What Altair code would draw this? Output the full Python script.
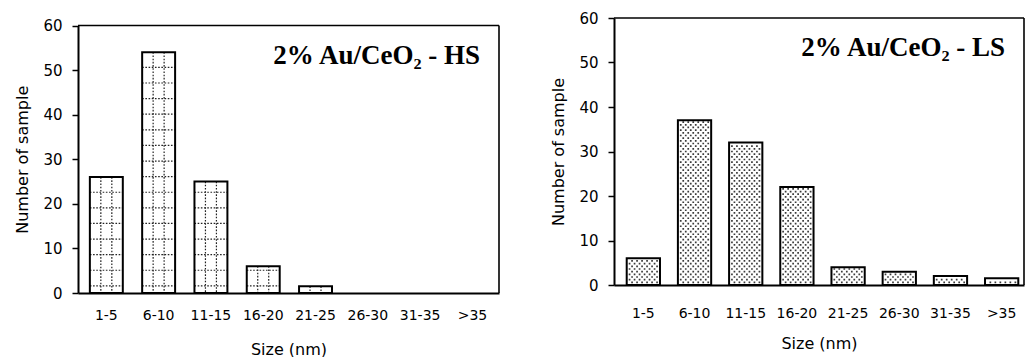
import altair as alt
import numpy as np
import pandas as pd

# Particle size classes and counts for the two catalysts
categories = ["1-5", "6-10", "11-15", "16-20", "21-25", "26-30", "31-35", ">35"]
hs_counts = [26, 54, 25, 6, 1.5, 0, 0, 0]
ls_counts = [6, 37, 32, 22, 4, 3, 2, 1.5]

y_ticks = [0, 10, 20, 30, 40, 50, 60]

SANS = "DejaVu Sans"
SERIF = "Liberation Serif"


def bar_frame(counts):
    df = pd.DataFrame({"size": categories, "count": counts})
    return df[df["count"] > 0]


def grid_rows(counts, start=1.6, step=3.5, margin=0.8):
    rows = []
    for cat, v in zip(categories, counts):
        for lvl in np.arange(start, v - margin, step):
            rows.append({"size": cat, "level": float(lvl)})
    return pd.DataFrame(rows, columns=["size", "level"])


def dot_rows(counts, step=0.6, margin=0.3):
    rows = []
    for cat, v in zip(categories, counts):
        k = 1
        while k * step < v - margin:
            rows.append({"size": cat, "level": k * step, "parity": k % 2})
            k += 1
    return pd.DataFrame(rows, columns=["size", "level", "parity"])


def panel(counts, label, width, height, top, pad_inner, pad_outer, align,
          label_pad, title_pad, kind):
    xscale = alt.Scale(domain=categories, paddingInner=pad_inner,
                       paddingOuter=pad_outer, align=align)
    # the plot box starts `top` pixels below the group's upper edge
    yscale = alt.Scale(domain=[0, 60], nice=False, range=[height, top])

    x_axis = alt.Axis(title="Size (nm)", labelAngle=0, ticks=False,
                      labelPadding=label_pad, titlePadding=title_pad,
                      labelFont=SANS, labelFontSize=14, labelColor="black",
                      titleFont=SANS, titleFontSize=16, titleFontWeight="normal",
                      titleColor="black", domainColor="black", domainWidth=2)
    y_axis = alt.Axis(title="Number of sample", values=y_ticks, grid=False,
                      tickSize=6, tickWidth=1.5, tickColor="black",
                      labelPadding=10, labelFont=SANS, labelFontSize=15,
                      labelColor="black", titleFont=SANS, titleFontSize=16,
                      titleFontWeight="normal", titleColor="black",
                      titlePadding=12, domainColor="black", domainWidth=2)

    bars_df = bar_frame(counts)
    base = alt.Chart(bars_df)

    fill = base.mark_bar(fill="white", stroke=None).encode(
        x=alt.X("size:N", scale=xscale, axis=x_axis, sort=categories),
        y=alt.Y("count:Q", scale=yscale, axis=y_axis),
    )

    layers = [fill]

    if kind == "grid":
        rows = grid_rows(counts)
        hlines = alt.Chart(rows).mark_rule(
            color="#222", strokeWidth=1.2, strokeDash=[1.6, 1.6]
        ).encode(
            x=alt.X("size:N", scale=xscale, sort=categories, bandPosition=0),
            x2=alt.X2("size", bandPosition=1),
            y=alt.Y("level:Q", scale=yscale),
        )
        layers.append(hlines)
        for bp in (1 / 3, 2 / 3):
            vlines = base.mark_rule(
                color="#222", strokeWidth=1.2, strokeDash=[1.6, 1.6]
            ).encode(
                x=alt.X("size:N", scale=xscale, sort=categories, bandPosition=bp),
                y=alt.Y("count:Q", scale=yscale),
                y2=alt.datum(0),
            )
            layers.append(vlines)
    else:
        rows = dot_rows(counts)
        for parity, offset in ((0, 0.0), (1, 2.5)):
            dots = alt.Chart(rows[rows["parity"] == parity]).mark_rule(
                color="#3a3a3a", strokeWidth=1.7, strokeDash=[1.7, 3.3],
                strokeDashOffset=offset
            ).encode(
                x=alt.X("size:N", scale=xscale, sort=categories, bandPosition=0.06),
                x2=alt.X2("size", bandPosition=0.94),
                y=alt.Y("level:Q", scale=yscale),
            )
            layers.append(dots)

    outline = base.mark_bar(fillOpacity=0, stroke="black", strokeWidth=2).encode(
        x=alt.X("size:N", scale=xscale, sort=categories),
        y=alt.Y("count:Q", scale=yscale),
    )
    layers.append(outline)

    # top and right sides of the plot box
    frame_df = pd.DataFrame({"lo": [0], "hi": [60]})
    top_edge = alt.Chart(frame_df).mark_rule(color="black", strokeWidth=1.6).encode(
        x=alt.value(0), x2=alt.value(width),
        y=alt.Y("hi:Q", scale=yscale),
    )
    right_edge = alt.Chart(frame_df).mark_rule(color="black", strokeWidth=1.6).encode(
        x=alt.value(width),
        y=alt.Y("lo:Q", scale=yscale), y2="hi:Q",
    )
    layers += [top_edge, right_edge]

    note = alt.Chart(pd.DataFrame({"t": [label]})).mark_text(
        font=SERIF, fontSize=27, fontWeight="bold", color="black",
        align="right", baseline="alphabetic"
    ).encode(
        text="t:N",
        x=alt.value(width - 19),
        y=alt.value(top + 38),
    )
    layers.append(note)

    return alt.layer(*layers).properties(
        width=width, height=height, view=alt.ViewBackground(stroke=None)
    )


left = panel(hs_counts, "2% Au/CeO₂ - HS", 421, 275, 7.5, 0.37, 0.21, 0.54,
             15, 19, "grid")
right = panel(ls_counts, "2% Au/CeO₂ - LS", 410, 267, 0, 0.35, 0.18, 0.69,
              21, 15, "dots")

chart = alt.hconcat(left, right, spacing=50).properties(
    padding={"left": 14, "top": 11, "right": 0, "bottom": 0},
    background="white",
).configure_view(stroke=None)

chart.save("out.html", embed_options={"renderer": "svg", "actions": False})
